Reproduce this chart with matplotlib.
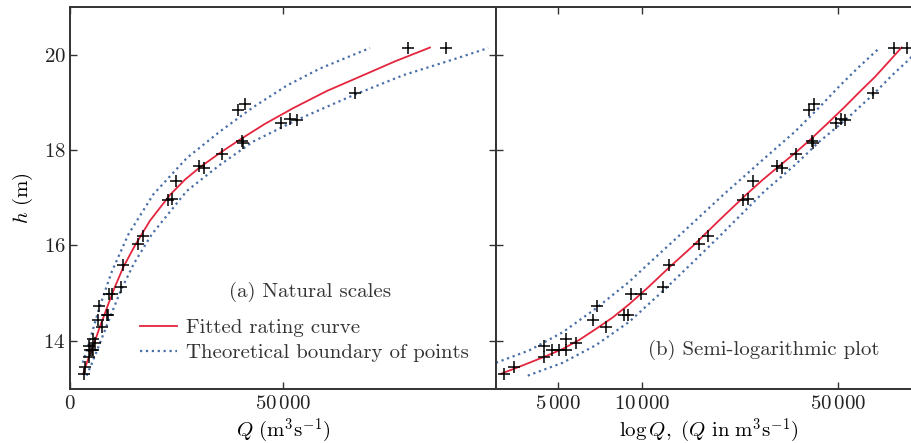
import numpy as np
import matplotlib
matplotlib.use('Agg')
import matplotlib.pyplot as plt
from matplotlib.ticker import FixedLocator, NullLocator

plt.rcParams['font.family'] = 'serif'
plt.rcParams['font.serif'] = ['cmr10']
plt.rcParams['mathtext.fontset'] = 'cm'
plt.rcParams['axes.formatter.use_mathtext'] = True
plt.rcParams['font.size'] = 15

# 实测点 (Q, h)
obs_q = [3194, 3491, 4448, 4467, 4766, 5052, 5318, 5327, 5798, 6652, 6879, 7421,
         8587, 8927, 9135, 9918, 11885, 12414, 15978, 17206, 22947, 23911, 24916,
         30353, 31474, 35588, 40272, 40608, 39398, 41150, 49470, 51540, 53265,
         66834, 79433, 88368]
obs_h = [13.31, 13.45, 13.89, 13.66, 13.81, 13.81, 13.80, 14.04, 13.96, 14.44, 14.72, 14.28,
         14.54, 14.54, 14.99, 14.99, 15.12, 15.58, 16.03, 16.19, 16.95, 16.98, 17.35,
         17.66, 17.63, 17.91, 18.19, 18.15, 18.85, 18.97, 18.56, 18.65, 18.63,
         19.20, 20.15, 20.15]

# 拟合水位流量关系曲线
fit_q = [3129, 3540, 3948, 4530, 5196, 5957, 6833, 7841, 8988, 10490, 12485, 15180,
         18780, 23470, 26990, 30510, 35200, 39900, 45770, 52410, 60320, 68060, 76280, 84490]
fit_h = [13.31, 13.43, 13.54, 13.68, 13.83, 14.02, 14.25, 14.49, 14.77, 15.12, 15.54, 15.99,
         16.52, 17.06, 17.38, 17.64, 17.94, 18.22, 18.55, 18.88, 19.24, 19.54, 19.86, 20.15]

# 理论边界 (上/下)
upper_q = [3000, 3948, 5196, 6833, 8988, 9813, 13690, 19550, 27380, 35200, 43020,
           50850, 58680, 70410]
upper_h = [13.54, 13.80, 14.18, 14.68, 15.24, 15.45, 16.23, 17.07, 17.83, 18.39, 18.90,
           19.35, 19.71, 20.14]
lower_q = [3896, 5196, 6833, 8988, 11885, 15000, 19170, 27380, 35200, 43020, 53200,
           66490, 78230, 89960, 98180]
lower_h = [13.27, 13.54, 13.91, 14.40, 15.05, 15.62, 16.23, 17.14, 17.69, 18.18, 18.63,
           19.15, 19.57, 19.90, 20.14]

red = '#e5253d'
blue = '#4a6fa8'
spine_c = '#333333'

fig = plt.figure(figsize=(9.11, 4.43), dpi=100)
ax1 = fig.add_axes([70 / 911, 54.5 / 443, 426 / 911, 381.5 / 443])
ax2 = fig.add_axes([496 / 911, 54.5 / 443, 426 / 911, 381.5 / 443])

for ax in (ax1, ax2):
    ax.plot(obs_q, obs_h, '+', color='black', markersize=8, markeredgewidth=1.1, zorder=4)
    ax.plot(fit_q, fit_h, color=red, linewidth=1.3, label='Fitted rating curve', zorder=3)
    ax.plot(upper_q, upper_h, ':', color=blue, linewidth=1.6,
            label='Theoretical boundary of points', zorder=2)
    ax.plot(lower_q, lower_h, ':', color=blue, linewidth=1.6, zorder=2)
    ax.set_ylim(13, 21)
    ax.yaxis.set_major_locator(FixedLocator([14, 16, 18, 20]))
    ax.tick_params(direction='in', length=5, width=1.0, top=True, right=True,
                   colors=spine_c, labelcolor='#222222', labelsize=15, pad=5)
    for sp in ax.spines.values():
        sp.set_color(spine_c)
        sp.set_linewidth(1.4)

# (a) 自然坐标
ax1.set_xlim(0, 100000)
ax1.xaxis.set_major_locator(FixedLocator([0, 50000]))
ax1.set_xticklabels([r'$0$', r'$50\,000$'])
ax1.set_yticklabels([r'$14$', r'$16$', r'$18$', r'$20$'])
ax1.tick_params(axis='y', pad=3)
ax1.set_xlabel(r'$Q\ (\mathrm{m}^3\mathrm{s}^{-1})$', fontsize=15, labelpad=2)
ax1.set_ylabel(r'$h\ (\mathrm{m})$', fontsize=15, labelpad=6)
ax1.text(0.563, 0.253, '(a) Natural scales', transform=ax1.transAxes,
         ha='center', va='center', fontsize=15, color='#333333')
ax1.legend(loc='center left', bbox_to_anchor=(0.164, 0.126), frameon=False,
           fontsize=15, handlelength=1.8, handletextpad=0.4, labelspacing=0.3,
           borderpad=0, borderaxespad=0, labelcolor='#333333')

# (b) 半对数坐标
ax2.set_xscale('log')
ax2.set_xlim(3000, 100000)
ax2.xaxis.set_major_locator(FixedLocator([5000, 10000, 50000]))
ax2.xaxis.set_minor_locator(NullLocator())
ax2.set_xticklabels([r'$5\,000$', r'$10\,000$', r'$50\,000$'])
ax2.tick_params(labelleft=False)
ax2.set_xlabel(r'$\log Q,\ (Q\ \mathrm{in}\ \mathrm{m}^3\mathrm{s}^{-1})$', fontsize=15, labelpad=2)
ax2.text(0.629, 0.101, '(b) Semi-logarithmic plot', transform=ax2.transAxes,
         ha='center', va='center', fontsize=15, color='#333333')

plt.savefig('out.png', dpi=100)
